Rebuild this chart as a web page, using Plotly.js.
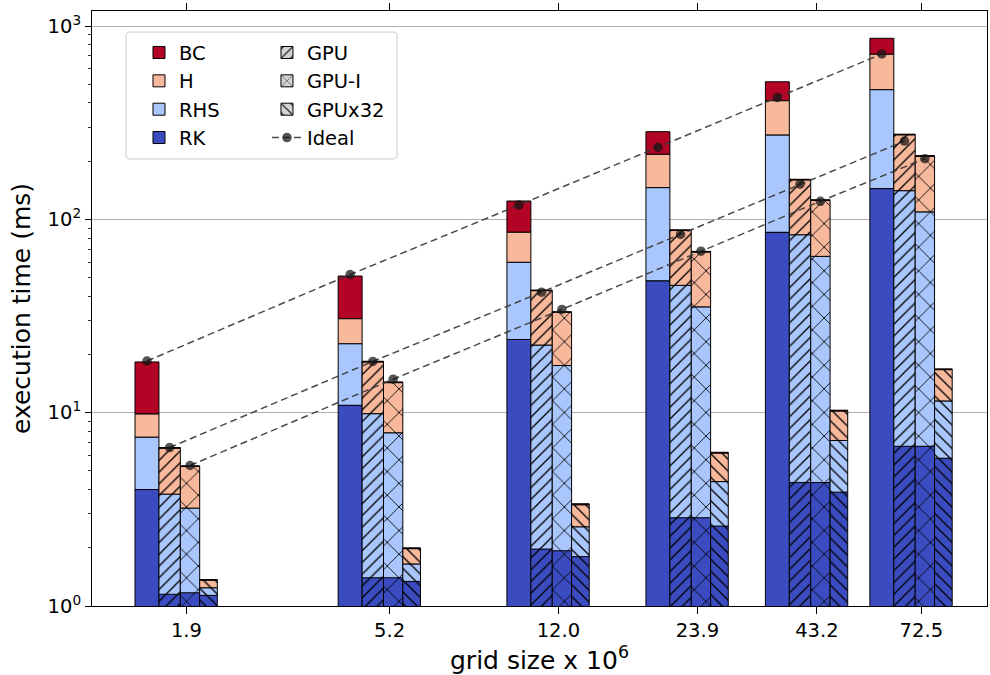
<!DOCTYPE html>
<html>
<head>
<meta charset="utf-8">
<script src="https://cdn.plot.ly/plotly-3.0.1.min.js"></script>
<style>html,body{margin:0;padding:0;background:#fff}</style>
</head>
<body>
<div id="chart" style="width:990px;height:675px"></div>
<script>
// ---- data ----
const sizes = [1.9, 5.2, 12.0, 23.9, 43.2, 72.5];
const sizeLabels = ['1.9', '5.2', '12.0', '23.9', '43.2', '72.5'];

const cpuRK  = [3.99, 10.9, 23.9, 48.0, 85.6, 144];
const cpuRHS = [3.47, 11.8, 36.0, 97.8, 187, 324];
const cpuH   = [2.38, 7.9, 25.8, 71.1, 138, 246];
const cpuBC  = [8.46, 20.3, 38.7, 67.1, 104, 150];

const gpuRK  = [1.15, 1.40, 1.97, 2.86, 4.35, 6.70];
const gpuRHS = [2.64, 8.48, 20.4, 42.7, 78.9, 134];
const gpuH   = [2.76, 8.42, 20.4, 42.1, 76.8, 133];
const gpuBC  = [0.05, 0.15, 0.3, 0.6, 1.1, 2.0];

const gpuiRK  = [1.17, 1.40, 1.93, 2.86, 4.35, 6.70];
const gpuiRHS = [2.04, 6.47, 15.6, 32.4, 60.0, 102.6];
const gpuiH   = [2.06, 6.43, 15.5, 32.5, 61.0, 102.7];
const gpuiBC  = [0.04, 0.12, 0.25, 0.5, 0.9, 1.5];

const x32RK  = [1.135, 1.34, 1.80, 2.59, 3.88, 5.81];
const x32RHS = [0.108, 0.31, 0.77, 1.81, 3.30, 5.69];
const x32H   = [0.117, 0.33, 0.77, 1.78, 3.02, 5.2];
const x32BC  = [0.01, 0.02, 0.04, 0.06, 0.1, 0.15];

const idealCPU  = [18.5, 51.8, 118.5, 236, 427, 717];
const idealGPU  = [6.6, 18.4, 42.0, 83.6, 152, 254];
const idealGPUI = [5.33, 14.9, 34.2, 68.4, 124, 206];

const componentNames = ['RK', 'RHS', 'H', 'BC'];
const configNames = ['CPU', 'GPU', 'GPU-I', 'GPUx32'];
const configData = [
  [cpuRK, cpuRHS, cpuH, cpuBC],
  [gpuRK, gpuRHS, gpuH, gpuBC],
  [gpuiRK, gpuiRHS, gpuiH, gpuiBC],
  [x32RK, x32RHS, x32H, x32BC]
];
const idealData = [idealCPU, idealGPU, idealGPUI];

// ---- styling ----
const FONT = 'DejaVu Sans, sans-serif';
const FS = 19.5;
const compColors = {RK: '#3b4cc0', RHS: '#aac7fd', H: '#f7b89c', BC: '#b40426'};
const patterns = [
  null,
  {shape: '/', size: 8.3, solidity: 0.16},
  {shape: 'x', size: 16.7, solidity: 0.1},
  {shape: '\\', size: 8.3, solidity: 0.16}
];
// bar layout inside each group (relative linear width, like a log-x matplotlib bar)
const groupStart = 0.775, barRel = 0.0976;

function barGeom(s, k) {
  const l = Math.log10(s * (groupStart + k * barRel));
  const r = Math.log10(s * (groupStart + (k + 1) * barRel));
  return {c: (l + r) / 2, w: r - l};
}

const traces = [];
const legendOrder = ['BC', 'H', 'RHS', 'RK'];
for (let k = 0; k < configNames.length; k++) {
  const comps = configData[k];
  const bases = comps.map((arr, ci) => sizes.map((_, i) => {
    let b = 0;
    for (let j = 0; j < ci; j++) b += comps[j][i];
    return ci === 0 ? 0.01 : b;
  }));
  const order = k === 0 ? legendOrder.map(n => componentNames.indexOf(n)) : [0, 1, 2, 3];
  for (const ci of order) {
    const name = componentNames[ci];
    const geo = sizes.map(s => barGeom(s, k));
    const marker = {
      color: compColors[name],
      line: {color: '#000', width: 1}
    };
    if (patterns[k]) {
      marker.pattern = Object.assign({fgcolor: '#000', bgcolor: compColors[name], fillmode: 'replace'}, patterns[k]);
    }
    traces.push({
      type: 'bar',
      name: name,
      x: geo.map(g => g.c),
      width: geo.map(g => g.w),
      y: comps[ci],
      base: bases[ci],
      marker: marker,
      showlegend: k === 0,
      legend: 'legend',
      hoverinfo: 'skip'
    });
  }
}

// legend-only entries for the hatch styles
for (let k = 1; k < configNames.length; k++) {
  traces.push({
    type: 'bar',
    name: configNames[k],
    x: [5], y: [1e-6], base: [1e-7], width: [0.01],
    marker: {
      color: '#d3d3d3',
      line: {color: '#000', width: 1},
      pattern: Object.assign({fgcolor: '#000', bgcolor: '#d3d3d3', fillmode: 'replace'}, patterns[k])
    },
    legend: 'legend2',
    showlegend: true,
    hoverinfo: 'skip'
  });
}

// ideal scaling lines through bar centres
for (let k = 0; k < idealData.length; k++) {
  traces.push({
    type: 'scatter',
    mode: 'lines+markers',
    name: 'Ideal',
    x: sizes.map(s => barGeom(s, k).c),
    y: idealData[k],
    line: {color: 'rgba(55,55,55,0.9)', width: 1.5, dash: '7px,4px'},
    marker: {color: 'rgba(20,20,20,0.72)', size: 9.5, symbol: 'circle'},
    legend: 'legend2',
    showlegend: k === 0,
    hoverinfo: 'skip'
  });
}

const minorVals = [];
for (let d = 0; d < 4; d++) for (let m = 2; m <= 9; m++) minorVals.push(m * Math.pow(10, d));

const legendCommon = {
  bgcolor: 'rgba(0,0,0,0)',
  borderwidth: 0,
  font: {family: FONT, size: FS, color: '#000'},
  traceorder: 'grouped',
  tracegroupgap: 6.1,
  xanchor: 'left',
  yanchor: 'top',
  orientation: 'v'
};

const bx0 = 0.038, bx1 = 0.3408, by0 = 0.7513, by1 = 0.9647, rx = 0.0045, ry = 0.0067;
const boxPath = `M${bx0 + rx},${by0} L${bx1 - rx},${by0} Q${bx1},${by0} ${bx1},${by0 + ry} L${bx1},${by1 - ry} Q${bx1},${by1} ${bx1 - rx},${by1} L${bx0 + rx},${by1} Q${bx0},${by1} ${bx0},${by1 - ry} L${bx0},${by0 + ry} Q${bx0},${by0} ${bx0 + rx},${by0} Z`;

const layout = {
  width: 990,
  height: 675,
  margin: {l: 92, r: 3, t: 11, b: 69},
  paper_bgcolor: '#fff',
  plot_bgcolor: '#fff',
  barmode: 'overlay',
  font: {family: FONT, size: FS, color: '#000'},
  xaxis: {
    type: 'linear',
    range: [0.0755, 2.0017],
    tickmode: 'array',
    tickvals: sizes.map(s => Math.log10(s)),
    ticktext: sizeLabels,
    ticks: 'outside',
    ticklen: 7,
    tickwidth: 1,
    tickcolor: '#000',
    showline: true,
    linecolor: '#000',
    linewidth: 1,
    mirror: 'ticks',
    showgrid: false,
    zeroline: false,
    tickfont: {family: FONT, size: FS, color: '#000'},
    title: {text: 'grid size x 10<sup>6</sup>', font: {family: FONT, size: 25, color: '#000'}, standoff: 9}
  },
  yaxis: {
    type: 'log',
    range: [0, 3.0776],
    tickmode: 'array',
    tickvals: [1, 10, 100, 1000],
    ticktext: ['10<sup>0</sup>', '10<sup>1</sup>', '10<sup>2</sup>', '10<sup>3</sup>'],
    ticks: 'outside',
    ticklen: 6,
    tickwidth: 1,
    tickcolor: '#000',
    minor: {tickmode: 'array', tickvals: minorVals, ticks: 'outside', ticklen: 3.5, tickwidth: 0.8, tickcolor: '#000', showgrid: false},
    showline: true,
    linecolor: '#000',
    linewidth: 1,
    mirror: true,
    showgrid: true,
    gridcolor: '#b0b0b0',
    gridwidth: 1,
    zeroline: false,
    tickfont: {family: FONT, size: FS, color: '#000'},
    title: {text: 'execution time (ms)', font: {family: FONT, size: 25, color: '#000'}, standoff: 9}
  },
  legend: Object.assign({x: 0.0525, y: 0.9625}, legendCommon),
  legend2: Object.assign({x: 0.1955, y: 0.9625}, legendCommon),
  shapes: [{
    type: 'path', xref: 'paper', yref: 'paper', path: boxPath,
    fillcolor: 'rgba(255,255,255,0.8)', line: {color: '#cccccc', width: 1}, layer: 'above'
  }]
};

Plotly.newPlot('chart', traces, layout, {staticPlot: true, displayModeBar: false});
</script>
</body>
</html>
